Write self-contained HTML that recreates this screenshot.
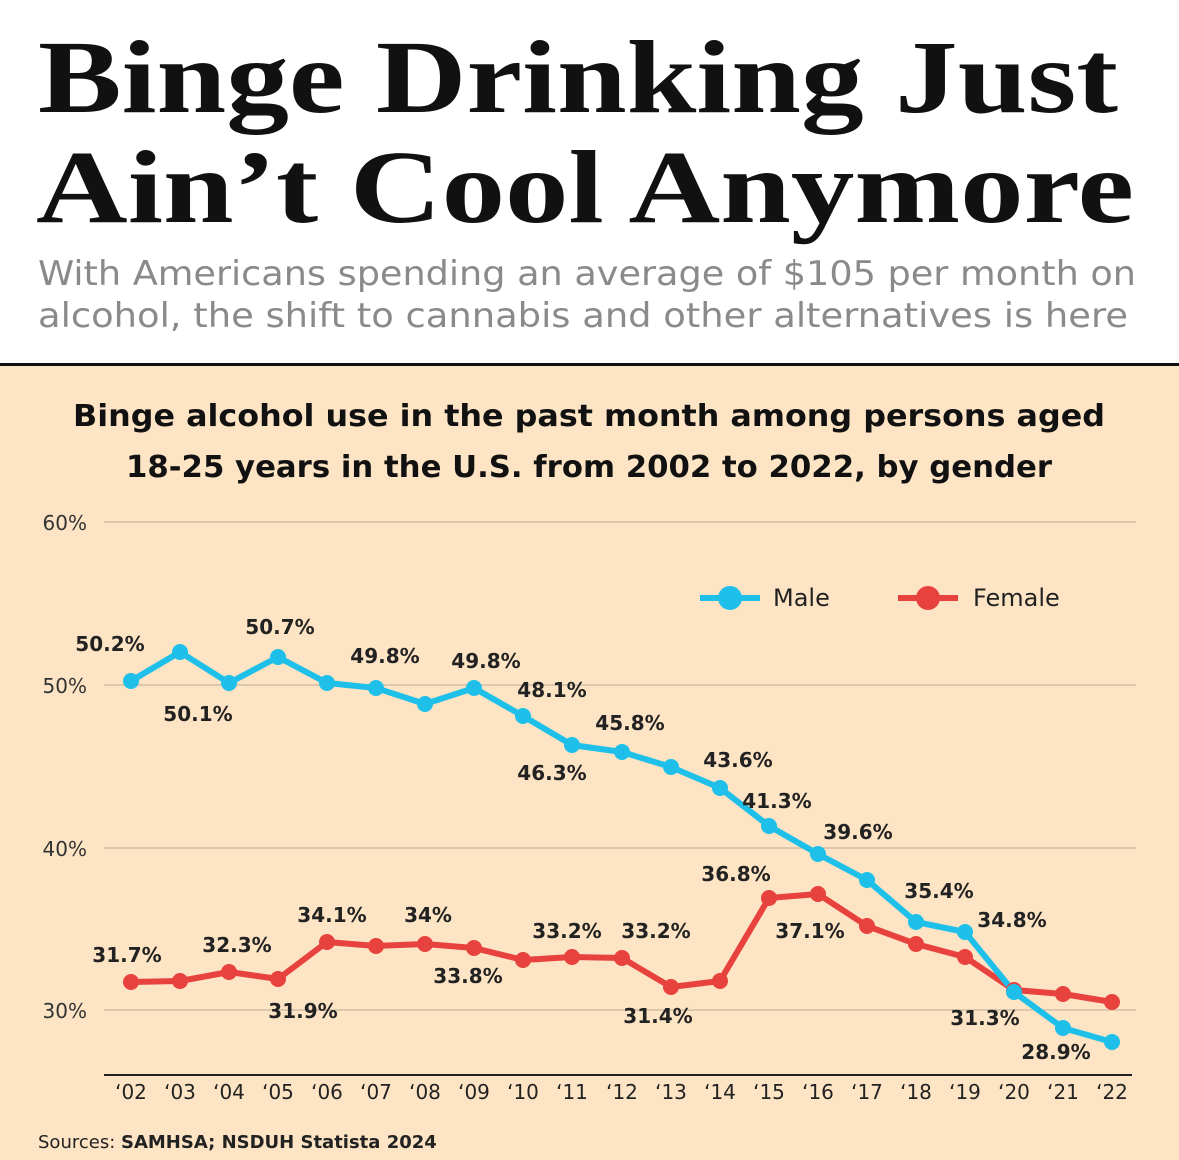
<!DOCTYPE html>
<html><head><meta charset="utf-8"><style>
html,body{margin:0;padding:0;background:#fff}
svg{display:block}
</style></head><body>
<svg width="1179" height="1160" viewBox="0 0 1179 1160" xmlns="http://www.w3.org/2000/svg">
<rect x="0" y="0" width="1179" height="365" fill="#ffffff"/>
<rect x="0" y="365" width="1179" height="795" fill="#fde4c4"/>
<rect x="0" y="363" width="1179" height="3" fill="#111"/>
<g font-family="Liberation Serif, serif" font-weight="bold" fill="#111" font-size="104">
<text x="38" y="112" textLength="1080" lengthAdjust="spacingAndGlyphs">Binge Drinking Just</text>
<text x="36" y="222" textLength="1098" lengthAdjust="spacingAndGlyphs">Ain’t Cool Anymore</text>
</g>
<g font-family="DejaVu Sans, Liberation Sans, sans-serif" fill="#8a8a8a" font-size="34">
<text x="38" y="285" textLength="1098" lengthAdjust="spacingAndGlyphs">With Americans spending an average of $105 per month on</text>
<text x="38" y="327" textLength="1090" lengthAdjust="spacingAndGlyphs">alcohol, the shift to cannabis and other alternatives is here</text>
</g>
<g font-family="DejaVu Sans, Liberation Sans, sans-serif" font-weight="bold" fill="#111" font-size="30" text-anchor="middle">
<text x="589" y="426" textLength="1032" lengthAdjust="spacingAndGlyphs">Binge alcohol use in the past month among persons aged</text>
<text x="589" y="477" textLength="926" lengthAdjust="spacingAndGlyphs">18-25 years in the U.S. from 2002 to 2022, by gender</text>
</g>
<g stroke="#c9b89e" stroke-width="1.3">
<line x1="104" y1="522" x2="1136" y2="522"/>
<line x1="104" y1="685" x2="1136" y2="685"/>
<line x1="104" y1="848" x2="1136" y2="848"/>
<line x1="104" y1="1010" x2="1136" y2="1010"/>
</g>
<line x1="104" y1="1075" x2="1132" y2="1075" stroke="#222" stroke-width="2"/>
<g font-family="DejaVu Sans, Liberation Sans, sans-serif" fill="#333" font-size="20" text-anchor="end">
<text x="87" y="530">60%</text><text x="87" y="693">50%</text><text x="87" y="856">40%</text><text x="87" y="1018">30%</text>
</g>
<g font-family="DejaVu Sans, Liberation Sans, sans-serif" fill="#222" font-size="20" text-anchor="middle">
<text x="131" y="1099">‘02</text><text x="180" y="1099">‘03</text><text x="229" y="1099">‘04</text><text x="278" y="1099">‘05</text><text x="327" y="1099">‘06</text><text x="376" y="1099">‘07</text><text x="425" y="1099">‘08</text><text x="474" y="1099">‘09</text><text x="523" y="1099">‘10</text><text x="572" y="1099">‘11</text><text x="622" y="1099">‘12</text><text x="671" y="1099">‘13</text><text x="720" y="1099">‘14</text><text x="769" y="1099">‘15</text><text x="818" y="1099">‘16</text><text x="867" y="1099">‘17</text><text x="916" y="1099">‘18</text><text x="965" y="1099">‘19</text><text x="1014" y="1099">‘20</text><text x="1063" y="1099">‘21</text><text x="1112" y="1099">‘22</text>
</g>
<g fill="none" stroke-width="6" stroke-linejoin="round">
<polyline stroke="#e8423f" points="131,982 180,981 229,972 278,979 327,942 376,946 425,944 474,948 523,960 572,957 622,958 671,987 720,981 769,898 818,894 867,926 916,944 965,957 1014,990 1063,994 1112,1002"/>
<polyline stroke="#1ec0ea" points="131,681 180,652 229,683 278,657 327,683 376,688 425,704 474,688 523,716 572,745 622,752 671,767 720,788 769,826 818,854 867,880 916,922 965,932 1014,992 1063,1028 1112,1042"/>
</g>
<g fill="#e8423f">
<circle cx="131" cy="982" r="8"/><circle cx="180" cy="981" r="8"/><circle cx="229" cy="972" r="8"/><circle cx="278" cy="979" r="8"/><circle cx="327" cy="942" r="8"/><circle cx="376" cy="946" r="8"/><circle cx="425" cy="944" r="8"/><circle cx="474" cy="948" r="8"/><circle cx="523" cy="960" r="8"/><circle cx="572" cy="957" r="8"/><circle cx="622" cy="958" r="8"/><circle cx="671" cy="987" r="8"/><circle cx="720" cy="981" r="8"/><circle cx="769" cy="898" r="8"/><circle cx="818" cy="894" r="8"/><circle cx="867" cy="926" r="8"/><circle cx="916" cy="944" r="8"/><circle cx="965" cy="957" r="8"/><circle cx="1014" cy="990" r="8"/><circle cx="1063" cy="994" r="8"/><circle cx="1112" cy="1002" r="8"/>
</g>
<g fill="#1ec0ea">
<circle cx="131" cy="681" r="8"/><circle cx="180" cy="652" r="8"/><circle cx="229" cy="683" r="8"/><circle cx="278" cy="657" r="8"/><circle cx="327" cy="683" r="8"/><circle cx="376" cy="688" r="8"/><circle cx="425" cy="704" r="8"/><circle cx="474" cy="688" r="8"/><circle cx="523" cy="716" r="8"/><circle cx="572" cy="745" r="8"/><circle cx="622" cy="752" r="8"/><circle cx="671" cy="767" r="8"/><circle cx="720" cy="788" r="8"/><circle cx="769" cy="826" r="8"/><circle cx="818" cy="854" r="8"/><circle cx="867" cy="880" r="8"/><circle cx="916" cy="922" r="8"/><circle cx="965" cy="932" r="8"/><circle cx="1014" cy="992" r="8"/><circle cx="1063" cy="1028" r="8"/><circle cx="1112" cy="1042" r="8"/>
</g>
<g font-family="DejaVu Sans, Liberation Sans, sans-serif" font-weight="bold" fill="#222" font-size="20" text-anchor="middle">
<text x="110" y="651">50.2%</text><text x="198" y="721">50.1%</text><text x="280" y="634">50.7%</text><text x="385" y="663">49.8%</text><text x="486" y="668">49.8%</text><text x="552" y="697">48.1%</text><text x="552" y="780">46.3%</text><text x="630" y="730">45.8%</text><text x="738" y="767">43.6%</text><text x="777" y="808">41.3%</text><text x="858" y="839">39.6%</text><text x="939" y="898">35.4%</text><text x="1012" y="927">34.8%</text><text x="1056" y="1059">28.9%</text>
<text x="127" y="962">31.7%</text><text x="237" y="952">32.3%</text><text x="303" y="1018">31.9%</text><text x="332" y="922">34.1%</text><text x="428" y="922">34%</text><text x="468" y="983">33.8%</text><text x="567" y="938">33.2%</text><text x="656" y="938">33.2%</text><text x="658" y="1023">31.4%</text><text x="736" y="881">36.8%</text><text x="810" y="938">37.1%</text><text x="985" y="1025">31.3%</text>
</g>
<g stroke-width="6">
<line x1="700" y1="598" x2="760" y2="598" stroke="#1ec0ea"/><circle cx="730" cy="598" r="12" fill="#1ec0ea"/>
<line x1="898" y1="598" x2="958" y2="598" stroke="#e8423f"/><circle cx="928" cy="598" r="12" fill="#e8423f"/>
</g>
<g font-family="DejaVu Sans, Liberation Sans, sans-serif" fill="#222" font-size="24">
<text x="773" y="606">Male</text><text x="973" y="606">Female</text>
</g>
<text x="38" y="1148" font-family="DejaVu Sans, Liberation Sans, sans-serif" font-size="18" fill="#222">Sources: <tspan font-weight="bold">SAMHSA; NSDUH Statista 2024</tspan></text>
</svg>
</body></html>
